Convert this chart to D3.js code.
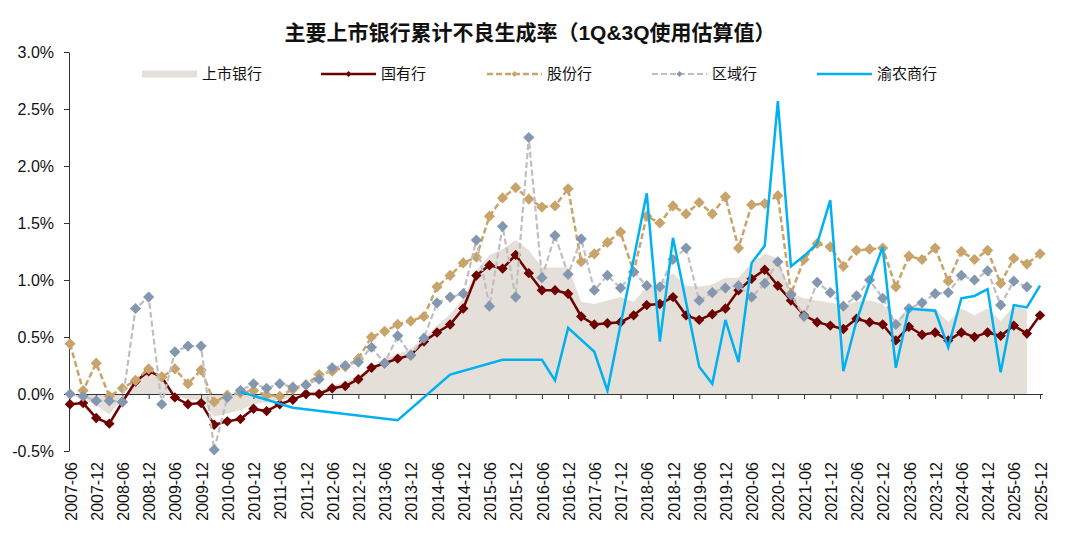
<!DOCTYPE html>
<html>
<head>
<meta charset="utf-8">
<script src="https://cdn.jsdelivr.net/npm/d3@7"></script>
<style>
  body { margin: 0; background: #fff; }
  svg text { font-family: "Liberation Sans", Arial, "Noto Sans CJK SC", sans-serif; }
</style>
</head>
<body>
<div id="my_chart"></div>
<script>
// quarter labels 2007-06 .. 2025-12
var quarters = []
for (var yr = 2007; yr <= 2025; yr++) {
  ["03", "06", "09", "12"].forEach(function (m) {
    if (yr == 2007 && m == "03") return
    quarters.push(yr + "-" + m)
  })
}

var yTicks = [-0.5, 0.0, 0.5, 1.0, 1.5, 2.0, 2.5, 3.0]

// 上市银行 (area)
var listed = [-0.01, -0.04, -0.10, -0.18, -0.04, 0.12, 0.21, 0.15, -0.01, -0.05,
  -0.05, -0.20, -0.17, -0.14, -0.09, -0.07, -0.05, -0.03, 0.01, 0.03,
  0.07, 0.11, 0.16, 0.24, 0.31, 0.35, 0.40, 0.49, 0.60, 0.70,
  0.84, 1.08, 1.22, 1.27, 1.35, 1.26, 1.11, 1.11, 1.11, 0.81,
  0.79, 0.82, 0.85, 0.81, 0.94, 0.96, 1.06, 0.95, 0.94, 0.96,
  1.02, 1.02, 1.15, 1.23, 1.19, 0.88, 0.84, 0.82, 0.80, 0.78,
  0.81, 0.82, 0.79, 0.63, 0.77, 0.76, 0.75, 0.63, 0.75, 0.69,
  0.75, 0.64, 0.77, 0.74, null]

// 国有行
var soe = [-0.09, -0.08, -0.21, -0.26, -0.07, 0.11, 0.20, 0.15, -0.03, -0.09,
  -0.08, -0.27, -0.24, -0.22, -0.13, -0.15, -0.09, -0.05, 0.00, 0.00,
  0.05, 0.07, 0.13, 0.23, 0.27, 0.31, 0.34, 0.46, 0.54, 0.61,
  0.75, 1.04, 1.13, 1.10, 1.22, 1.06, 0.91, 0.91, 0.88, 0.68,
  0.61, 0.62, 0.63, 0.69, 0.78, 0.79, 0.85, 0.69, 0.65, 0.70,
  0.75, 0.91, 1.01, 1.09, 0.95, 0.82, 0.69, 0.63, 0.60, 0.57,
  0.66, 0.63, 0.61, 0.47, 0.59, 0.52, 0.54, 0.47, 0.54, 0.50,
  0.54, 0.51, 0.60, 0.53, 0.69]

// 股份行
var jsb = [0.44, 0.03, 0.27, -0.02, 0.05, 0.12, 0.22, 0.15, 0.22, 0.09,
  0.21, -0.07, -0.01, 0.01, 0.03, -0.01, -0.02, 0.04, 0.08, 0.17,
  0.20, 0.24, 0.31, 0.50, 0.55, 0.61, 0.64, 0.68, 0.94, 1.04,
  1.15, 1.20, 1.56, 1.72, 1.81, 1.71, 1.64, 1.65, 1.80, 1.16,
  1.23, 1.33, 1.42, 1.07, 1.56, 1.50, 1.65, 1.58, 1.68, 1.58,
  1.73, 1.28, 1.66, 1.67, 1.74, 0.88, 1.18, 1.32, 1.29, 1.12,
  1.26, 1.27, 1.28, 0.94, 1.21, 1.18, 1.28, 0.99, 1.25, 1.18,
  1.26, 0.97, 1.19, 1.14, 1.23]

// 区域行
var city = [0.00, -0.02, -0.06, -0.06, -0.07, 0.75, 0.85, -0.09, 0.37, 0.42,
  0.42, -0.49, -0.03, 0.03, 0.09, 0.05, 0.09, 0.06, 0.08, 0.13,
  0.23, 0.25, 0.28, 0.41, 0.27, 0.51, 0.34, 0.49, 0.80, 0.85,
  0.88, 1.35, 0.77, 1.47, 0.85, 2.25, 1.02, 1.39, 1.05, 1.36,
  0.91, 1.04, 0.93, 1.07, 0.95, 0.94, 1.18, 1.28, 0.82, 0.89,
  0.93, 0.95, 0.85, 0.97, 1.16, 0.87, 0.68, 0.98, 0.89, 0.77,
  0.86, 1.00, 0.84, 0.61, 0.75, 0.80, 0.88, 0.89, 1.04, 1.00,
  1.08, 0.78, 0.99, 0.94, null]

// 渝农商行 (gaps are bridged)
var cqrcb = [null, null, null, null, null, null, null, null, null, null,
  null, null, null, 0.02, null, null, null, -0.12, null, null,
  null, null, null, null, null, -0.23, null, null, null, 0.17,
  null, null, null, 0.30, null, null, 0.30, 0.12, 0.58, null,
  0.37, 0.03, null, null, 1.76, 0.46, 1.37, null, 0.24, 0.09,
  0.65, 0.28, 1.15, 1.30, 2.57, 1.12, 1.21, 1.32, 1.70, 0.20,
  0.64, 0.98, 1.29, 0.23, 0.75, 0.74, 0.73, 0.41, 0.84, 0.86,
  0.92, 0.19, 0.78, 0.76, 0.95]

var width = 1080
var height = 535

var svg = d3.select("#my_chart")
  .append("svg")
  .attr("width", width)
  .attr("height", height)

var x = d3.scalePoint().domain(quarters).range([70, 1040])
var y = d3.scaleLinear().domain([-0.5, 3.0]).range([451, 52])

function toPoints(arr) {
  return arr.map(function (v, i) { return { q: quarters[i], v: v } })
}

var diamond = function (r) {
  return "M0," + (-r) + "L" + r + ",0L0," + r + "L" + (-r) + ",0Z"
}

//Title
svg.append("text")
  .attr("x", 530)
  .attr("y", 40)
  .attr("text-anchor", "middle")
  .attr("font-size", 21)
  .attr("font-weight", "bold")
  .attr("fill", "#111")
  .text("主要上市银行累计不良生成率（1Q&3Q使用估算值）")

//Area
var area = d3.area()
  .defined(function (d) { return d.v != null })
  .x(function (d) { return x(d.q) })
  .y0(y(0))
  .y1(function (d) { return y(d.v) })

svg.append("path")
  .datum(toPoints(listed))
  .attr("d", area)
  .attr("fill", "#E5DFD9")

//Axes
var yAxis = svg.append("g")
  .attr("transform", "translate(69,0)")
  .call(d3.axisLeft(y).tickValues(yTicks).tickSize(5).tickSizeOuter(0).tickPadding(10)
    .tickFormat(function (d) { return d.toFixed(1) + "%" }))
yAxis.selectAll("text").attr("font-size", 16).attr("fill", "#111")
yAxis.selectAll("line, path").attr("stroke", "#333")

var evenQuarters = quarters.filter(function (d, i) { return i % 2 == 0 })

var xAxis = svg.append("g")
  .attr("transform", "translate(0," + y(0) + ")")
  .call(d3.axisBottom(x).tickValues(evenQuarters).tickSize(5).tickSizeOuter(0).tickFormat(""))
xAxis.selectAll("line, path").attr("stroke", "#333")
xAxis.select(".domain").attr("d", "M69,0.5H1043")

svg.append("g")
  .selectAll("text")
  .data(evenQuarters)
  .enter()
  .append("text")
  .attr("transform", function (d) { return "translate(" + (x(d) + 1) + ",462) rotate(-90)" })
  .attr("text-anchor", "end")
  .attr("dy", "0.35em")
  .attr("font-size", 16)
  .attr("fill", "#111")
  .text(function (d) { return d })

//Lines
var line = d3.line()
  .defined(function (d) { return d.v != null })
  .x(function (d) { return x(d.q) })
  .y(function (d) { return y(d.v) })

var series = [
  { name: "国有行", data: soe, color: "#6E0000", width: 2.5, dash: null, marker: "#6E0000", r: 5.2 },
  { name: "股份行", data: jsb, color: "#C9A46A", width: 2.5, dash: "6,3", marker: "#C9A46A", r: 5.6 },
  { name: "区域行", data: city, color: "#BFBFBF", width: 2.2, dash: "6,3", marker: "#8497B0", r: 5.6 },
  { name: "渝农商行", data: cqrcb, color: "#00B0F0", width: 2.5, dash: null, marker: null, r: 0 }
]

series.forEach(function (s) {
  var pts = toPoints(s.data).filter(function (d) { return d.v != null })
  svg.append("path")
    .datum(pts)
    .attr("d", line)
    .attr("fill", "none")
    .attr("stroke", s.color)
    .attr("stroke-width", s.width)
    .attr("stroke-dasharray", s.dash)
    .attr("stroke-linejoin", "miter")

  if (s.marker) {
    svg.append("g")
      .selectAll("path")
      .data(pts)
      .enter()
      .append("path")
      .attr("d", diamond(s.r))
      .attr("transform", function (d) { return "translate(" + x(d.q) + "," + y(d.v) + ")" })
      .attr("fill", s.marker)
  }
})

//Legend
var legendY = 74
var legendX = [142, 321, 487, 652, 817]
var legendItems = [{ name: "上市银行", area: true }].concat(series)

var legend = svg.selectAll(".legend")
  .data(legendItems)
  .enter()
  .append("g")
  .attr("transform", function (d, i) { return "translate(" + legendX[i] + "," + legendY + ")" })

legend.each(function (d) {
  var g = d3.select(this)
  if (d.area) {
    g.append("rect").attr("x", 0).attr("y", -3.5).attr("width", 55).attr("height", 7).attr("fill", "#E5DFD9")
  } else {
    g.append("line").attr("x1", 0).attr("x2", 55).attr("y1", 0).attr("y2", 0)
      .attr("stroke", d.color).attr("stroke-width", d.width).attr("stroke-dasharray", d.dash)
    if (d.marker) {
      g.append("path").attr("d", diamond(3)).attr("transform", "translate(27.5,0)").attr("fill", d.marker)
    }
  }
  g.append("text")
    .attr("x", 60)
    .attr("dy", "0.35em")
    .attr("font-size", 15)
    .attr("fill", "#111")
    .text(d.name)
})
</script>
</body>
</html>
